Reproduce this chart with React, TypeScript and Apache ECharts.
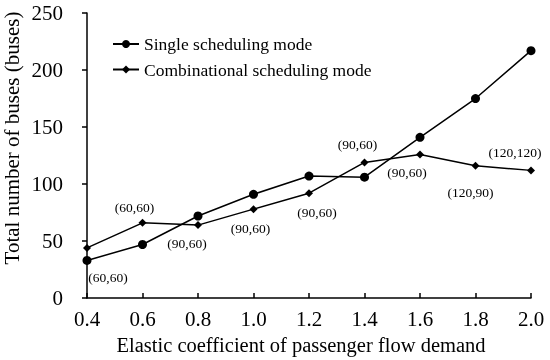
import React, { useEffect, useRef } from "react";
import * as echarts from "echarts";

const categories = ["0.4", "0.6", "0.8", "1.0", "1.2", "1.4", "1.6", "1.8", "2.0"];
const singleValues = [33, 47, 72, 91, 107, 106, 141, 175, 217];
const combValues = [44, 66, 64, 78, 92, 119, 126, 116, 112];
const pointLabels = ["(60,60)", "(60,60)", "(90,60)", "(90,60)", "(90,60)", "(90,60)", "(90,60)", "(120,90)", "(120,120)"];
const yTicks = [0, 50, 100, 150, 200, 250];

const labelOffsets: [number, number][] = [
  [21, 30], [-8, -15], [-11, 18], [-3, 19], [8, 19], [-7, -18], [-13, 18], [-5, 27], [-16, -18],
];

const FONT = "Liberation Serif";

export default function App() {
  const ref = useRef<HTMLDivElement>(null);
  useEffect(() => {
    if (!ref.current) return;
    const chart = echarts.init(ref.current, undefined, { renderer: "svg" });
    chart.setOption({
      animation: false,
      textStyle: { fontFamily: FONT, color: "#000" },
      grid: { left: 87, right: 19, top: 13, bottom: 61 },
      legend: {
        orient: "vertical",
        left: 107,
        top: 30,
        itemWidth: 26,
        itemHeight: 10,
        itemGap: 7.5,
        textStyle: { fontFamily: FONT, fontSize: 17.5, color: "#000" },
        data: ["Single scheduling mode", "Combinational scheduling mode"],
      },
      graphic: [
        {
          type: "text",
          x: 12,
          y: 138,
          rotation: Math.PI / 2,
          style: {
            text: "Total number of buses (buses)",
            fontFamily: FONT,
            fontSize: 21,
            fill: "#000",
            align: "center",
            verticalAlign: "middle",
          },
        },
      ],
      xAxis: {
        type: "category",
        data: categories,
        boundaryGap: false,
        name: "Elastic coefficient of passenger flow demand",
        nameLocation: "middle",
        nameGap: 33,
        nameTextStyle: { fontFamily: FONT, fontSize: 20.5, color: "#000", padding: [0, 16, 0, 0] },
        axisLine: { lineStyle: { color: "#000", width: 1.5 } },
        axisTick: { inside: true, length: 5, lineStyle: { color: "#000", width: 1.5 } },
        axisLabel: { fontFamily: FONT, fontSize: 21, color: "#000", margin: 10 },
        splitLine: { show: false },
      },
      yAxis: {
        type: "value",
        min: yTicks[0],
        max: yTicks[yTicks.length - 1],
        interval: 50,
        axisLine: { show: true, lineStyle: { color: "#000", width: 1.5 } },
        axisTick: { show: true, inside: false, length: 5, lineStyle: { color: "#000", width: 1.5 } },
        axisLabel: { fontFamily: FONT, fontSize: 21, color: "#000", margin: 24 },
        splitLine: { show: false },
      },
      series: [
        {
          name: "Single scheduling mode",
          type: "line",
          data: singleValues,
          symbol: "circle",
          symbolSize: 9,
          itemStyle: { color: "#000" },
          lineStyle: { color: "#000", width: 1.5 },
        },
        {
          name: "Combinational scheduling mode",
          type: "line",
          data: combValues.map((v, i) => ({
            value: v,
            label: {
              show: true,
              position: "inside",
              offset: labelOffsets[i],
              formatter: pointLabels[i],
              fontFamily: FONT,
              fontSize: 13.5,
              color: "#000",
            },
          })),
          symbol: "diamond",
          symbolSize: 8,
          itemStyle: { color: "#000" },
          lineStyle: { color: "#000", width: 1.5 },
          label: { show: true, fontFamily: FONT, fontSize: 13.5, color: "#000" },
        },
      ],
    });
    return () => chart.dispose();
  }, []);
  return <div ref={ref} style={{ position: "fixed", left: 0, top: 0, width: 550, height: 360 }} />;
}
